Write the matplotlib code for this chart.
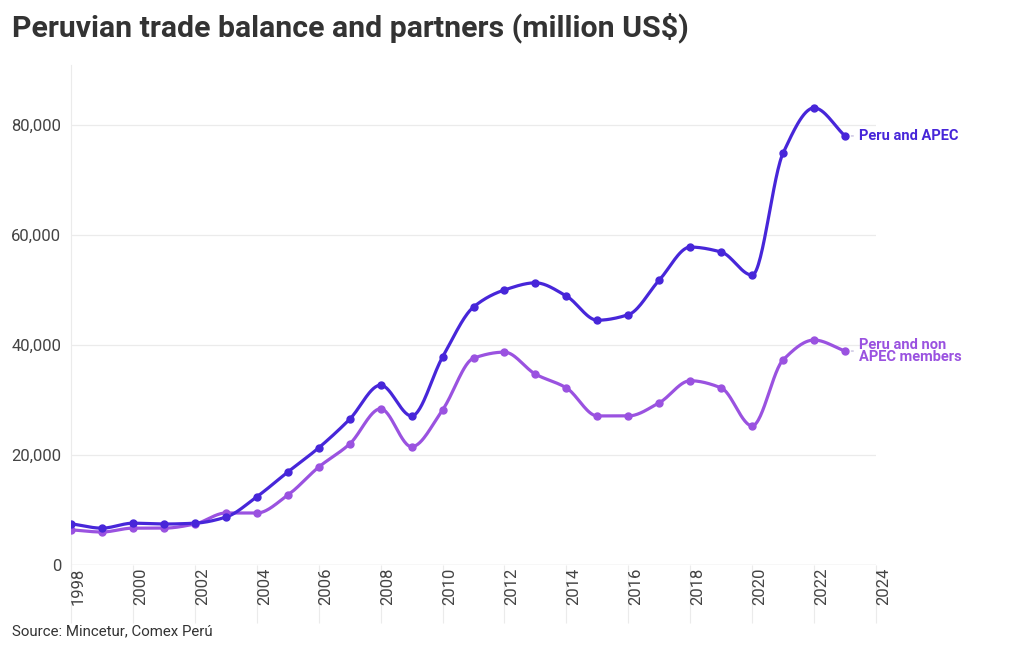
import numpy as np
import matplotlib.pyplot as plt

plt.rcParams['font.family'] = ['Roboto', 'DejaVu Sans']

years = list(range(1998, 2024))
apec = [7500, 6700, 7600, 7450, 7600, 8700, 12400, 16900, 21300, 26500,
        32700, 27100, 37800, 46900, 50000, 51300, 48900, 44500, 45500, 51800,
        57800, 56900, 52700, 74900, 83100, 78000]
non_apec = [6400, 6000, 6700, 6700, 7450, 9450, 9450, 12700, 17800, 22000,
            28400, 21500, 28200, 37600, 38700, 34700, 32200, 27100, 27100, 29500,
            33500, 32200, 25300, 37300, 40900, 38900]
series_names = ['Peru and APEC', 'Peru and non\nAPEC members']
colors = ['#4726d9', '#9a52e0']


def monotone(x, y, n=30):
    # monotone cubic (Fritsch-Carlson) for the smooth line path
    x = np.asarray(x, float)
    y = np.asarray(y, float)
    h = np.diff(x)
    d = np.diff(y) / h
    m = np.zeros_like(y)
    m[0], m[-1] = d[0], d[-1]
    for i in range(1, len(y) - 1):
        if d[i - 1] * d[i] <= 0:
            m[i] = 0
        else:
            w1 = 2 * h[i] + h[i - 1]
            w2 = h[i] + 2 * h[i - 1]
            m[i] = (w1 + w2) / (w1 / d[i - 1] + w2 / d[i])
    xs, ys = [], []
    for i in range(len(x) - 1):
        t = np.linspace(0, 1, n, endpoint=False)
        h00 = 2 * t**3 - 3 * t**2 + 1
        h10 = t**3 - 2 * t**2 + t
        h01 = -2 * t**3 + 3 * t**2
        h11 = t**3 - t**2
        xs.append(x[i] + t * h[i])
        ys.append(h00 * y[i] + h10 * h[i] * m[i] + h01 * y[i + 1] + h11 * h[i] * m[i + 1])
    xs.append([x[-1]])
    ys.append([y[-1]])
    return np.concatenate(xs), np.concatenate(ys)


fig = plt.figure(figsize=(10.2, 6.5), dpi=100)
ax = fig.add_axes([71 / 1020, 85 / 650, 805 / 1020, 500 / 650])

for vals, col in zip([non_apec, apec], [colors[1], colors[0]]):
    sx, sy = monotone(years, vals)
    ax.plot(sx, sy, color=col, lw=2.3, zorder=3, solid_capstyle='round')
    ax.plot(years, vals, 'o', color=col, ms=5, zorder=4)

ax.set_xlim(1998, 2024)
ax.set_ylim(0, 90900)
ax.set_yticks([0, 20000, 40000, 60000, 80000])
ax.set_yticklabels(['0', '20,000', '40,000', '60,000', '80,000'])
ax.set_xticks(range(1998, 2025, 2))
ax.set_xticklabels([str(y) for y in range(1998, 2025, 2)], rotation=90)
ax.grid(axis='y', color='#ebebeb', lw=0.9)
ax.set_axisbelow(True)
for s in ['top', 'right', 'bottom']:
    ax.spines[s].set_visible(False)
ax.spines['left'].set_color('#ebebeb')
ax.axhline(0, color='#e6e6e6', lw=1, zorder=1)
ax.tick_params(axis='y', length=0, pad=7, labelsize=12, labelcolor='#444444')
ax.tick_params(axis='x', length=42, width=0.8, color='#ebebeb', pad=-40,
               labelsize=12, labelcolor='#444444')
for lab in ax.get_xticklabels():
    lab.set_horizontalalignment('left')
    lab.set_verticalalignment('top')

# end labels
for vals, name, col, ls in zip([apec, non_apec], series_names, colors, [1.2, 0.85]):
    ax.annotate(name, xy=(years[-1], vals[-1]), xytext=(10, 0),
                textcoords='offset points', va='center', ha='left',
                color=col, fontsize=10.5, fontweight='bold', linespacing=ls,
                arrowprops=dict(arrowstyle='-', color='#b9b0d8', lw=0.8,
                                shrinkA=2, shrinkB=4.5))

fig.text(12 / 1020, 1 - 28 / 650, 'Peruvian trade balance and partners (million US$)',
         fontsize=21.8, fontweight='bold', color='#333333', va='center', ha='left')
fig.text(12 / 1020, 1 - 631 / 650, 'Source: Mincetur, Comex Perú',
         fontsize=10.8, color='#333333', va='center', ha='left')

fig.savefig('out.png', dpi=100)
